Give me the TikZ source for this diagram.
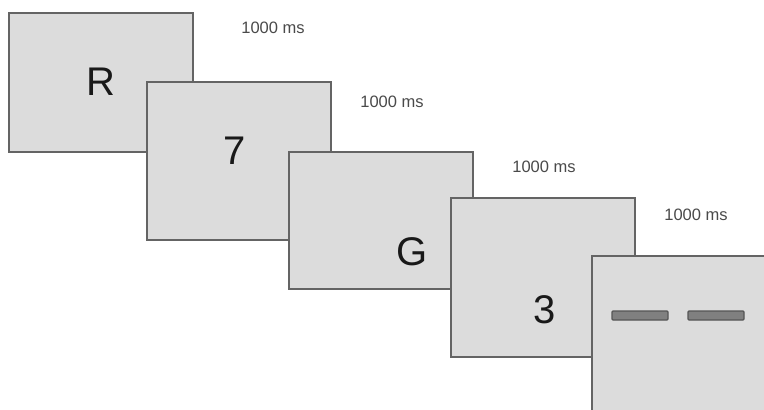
\documentclass[tikz,border=0pt]{standalone}
\usepackage{fontspec}
\setmainfont{Liberation Sans}
\definecolor{panelfill}{HTML}{DCDCDC}
\definecolor{paneledge}{HTML}{646464}
\definecolor{barfill}{HTML}{808080}
\definecolor{bardraw}{HTML}{555555}
\definecolor{labelcol}{HTML}{4A4A4A}
\begin{document}
\begin{tikzpicture}[x=1pt,y=-1pt,
  panel/.style={draw=paneledge, fill=panelfill, line width=1.7pt, inner sep=0pt, anchor=north west},
  bigchar/.style={inner sep=0pt, text=black!90, font=\fontsize{40}{40}\selectfont},
  timelabel/.style={inner sep=0pt, text=labelcol, font=\fontsize{16.5}{17}\selectfont},
  bar/.style={draw=bardraw, fill=barfill, line width=1.2pt, rounded corners=1pt, inner sep=0pt, minimum width=56pt, minimum height=9pt}]
\useasboundingbox (0,0) rectangle (764,410);
\clip (0,0) rectangle (764,410);
\fill[white] (0,0) rectangle (764,410);
% panels
\node[panel, minimum width=184pt, minimum height=139pt] (p1) at (8,12) {};
\node[bigchar] (c1) at (101,82) {R};
\node[panel, minimum width=184pt, minimum height=158pt] (p2) at (146,81) {};
\node[bigchar] (c2) at (235,151) {7};
\node[panel, minimum width=184pt, minimum height=137pt] (p3) at (288,151) {};
\node[bigchar] (c3) at (412,252) {G};
\node[panel, minimum width=184pt, minimum height=159pt] (p4) at (450,197) {};
\node[bigchar] (c4) at (545,310) {3};
\node[panel, minimum width=190pt, minimum height=170pt] (p5) at (591,255) {};
\node[bar] (b1) at (640,315.5) {};
\node[bar] (b2) at (716,315.5) {};
% labels
\node[timelabel] (t1) at (273,28) {1000 ms};
\node[timelabel] (t2) at (392,102) {1000 ms};
\node[timelabel] (t3) at (544,167) {1000 ms};
\node[timelabel] (t4) at (696,215) {1000 ms};
\end{tikzpicture}
\end{document}
